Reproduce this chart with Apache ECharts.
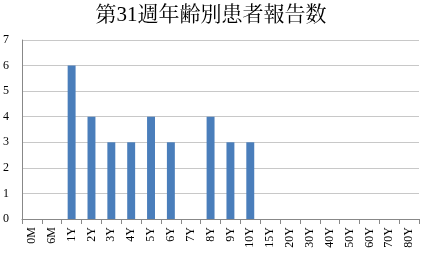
<!DOCTYPE html>
<html><head><meta charset="utf-8">
<script src="https://cdn.jsdelivr.net/npm/echarts@6/dist/echarts.min.js"></script>
<style>html,body{margin:0;padding:0;background:#fff}#c{width:422px;height:257px}</style>
</head><body><div id="c"></div>
<script>
const titleText = '第31週年齢別患者報告数';
const categories = ['0M','6M','1Y','2Y','3Y','4Y','5Y','6Y','7Y','8Y','9Y','10Y','15Y','20Y','30Y','40Y','50Y','60Y','70Y','80Y'];
const values = [0,0,6,4,3,3,4,3,0,4,3,3,0,0,0,0,0,0,0,0];
const yTicks = [0,1,2,3,4,5,6,7];
const serif = '"Liberation Serif","DejaVu Serif","Noto Serif CJK JP","Noto Sans CJK JP",serif';
const chart = echarts.init(document.getElementById('c'), null, {renderer:'canvas'});
chart.setOption({
  animation:false,
  title:{text:titleText,left:'center',top:0,textStyle:{fontFamily:serif,fontSize:21,fontWeight:'normal',color:'#000'}},
  grid:{left:20,right:3,top:40,bottom:38,containLabel:false},
  xAxis:{type:'category',data:categories,
    axisLine:{lineStyle:{color:'#888'}},
    axisTick:{show:true,alignWithLabel:false,length:5,lineStyle:{color:'#888'}},
    axisLabel:{rotate:90,interval:0,fontFamily:serif,fontSize:12,color:'#000',margin:8}},
  yAxis:{type:'value',min:yTicks[0],max:yTicks[yTicks.length-1],interval:1,
    axisLine:{show:true,lineStyle:{color:'#888'}},
    axisTick:{show:false},
    splitLine:{lineStyle:{color:'#c8c8c8'}},
    axisLabel:{fontFamily:serif,fontSize:12,color:'#000',margin:13}},
  series:[{type:'bar',data:values,barWidth:'40%',itemStyle:{color:'#4a7ebb'}}]
});
</script></body></html>
